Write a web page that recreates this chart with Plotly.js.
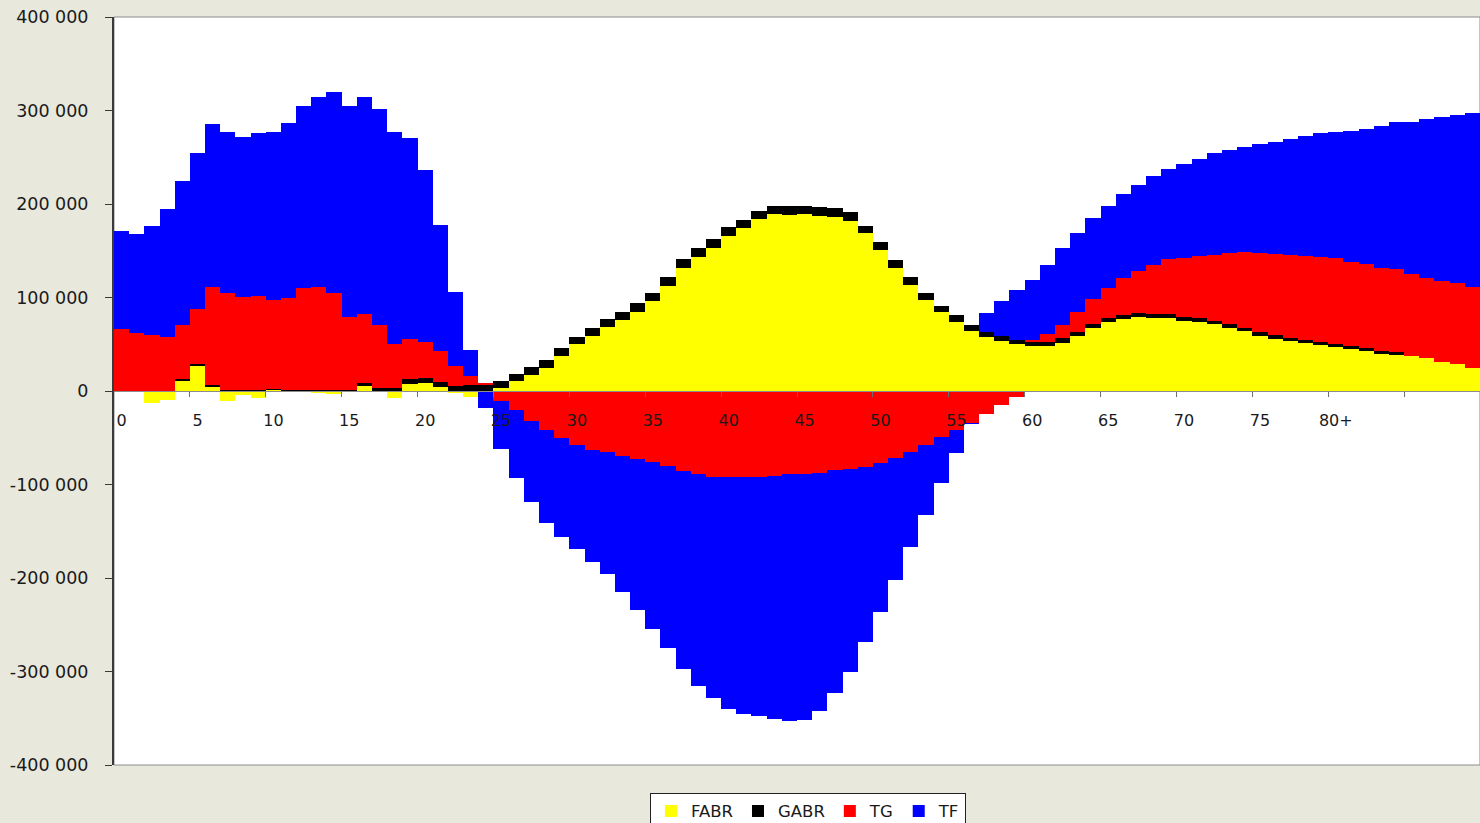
<!DOCTYPE html>
<html>
<head>
<meta charset="utf-8">
<script src="https://cdn.plot.ly/plotly-3.0.1.min.js"></script>
<style>
html,body{margin:0;padding:0;background:#E8E8DC;}
#chart{width:1480px;height:823px;}
</style>
</head>
<body>
<div id="chart"></div>
<script>
var ages = [0,1,2,3,4,5,6,7,8,9,10,11,12,13,14,15,16,17,18,19,20,21,22,23,24,25,26,27,28,29,
  30,31,32,33,34,35,36,37,38,39,40,41,42,43,44,45,46,47,48,49,50,51,52,53,54,55,56,57,58,59,
  60,61,62,63,64,65,66,67,68,69,70,71,72,73,74,75,76,77,78,79,80,81,82,83,84,85,86,87,88,89];

var tickAges = [0,5,10,15,20,25,30,35,40,45,50,55,60,65,70,75,80];
var tickLabels = ["0","5","10","15","20","25","30","35","40","45","50","55","60","65","70","75","80+"];

var FABR = [0,0,-13200,-9600,11000,27000,4600,-10700,-4300,-7800,
  1500,-1000,500,-2000,-3000,500,5300,500,-7800,7500,
  8200,4600,-2500,-6000,0,2900,10300,17100,25000,37800,
  49900,58800,68100,75900,84800,96300,112300,131900,143600,153300,
  166100,174000,183600,189000,188500,189000,187500,186500,182200,168700,
  150800,131900,113400,97300,84800,74100,64500,58100,53500,50300,
  48400,48400,51700,58800,67000,73500,77000,78800,77700,77700,
  75200,73500,71300,67000,64200,58800,55900,53200,51000,48900,
  46700,44600,42800,39600,38500,37400,35000,30700,28900,24900];

var GABR = [500,500,500,500,1500,2000,1500,800,800,800,
  1000,800,1000,1000,1000,1000,3500,3000,3500,5000,
  5300,5000,5500,6400,6400,7800,7900,8200,8200,8600,
  8200,8200,8900,8900,9000,8900,9300,9300,9000,8900,
  9000,8900,9200,8900,9400,9000,9700,8900,8900,7800,
  8900,8200,8200,7200,6600,7200,6100,5300,5300,4200,
  4300,4300,4700,4600,4700,4200,4300,4300,4700,4700,
  4300,4200,3900,4300,3500,4600,4000,3500,3500,3500,
  3600,3500,2800,3200,3500,0,0,0,0,0];

var TG = [66000,62000,59400,57300,58100,58400,105500,104200,99400,101200,
  94800,98300,108300,109900,104200,78000,73600,66700,46800,43500,
  39300,33500,21600,10000,2400,-11000,-20300,-31700,-41700,-50600,
  -58000,-62800,-65600,-69200,-73000,-76300,-80600,-85400,-89000,-91600,
  -92300,-92100,-91600,-90600,-89100,-88500,-88000,-84500,-83400,-80900,
  -76600,-71300,-64900,-57800,-49500,-41700,-34000,-24200,-14500,-6000,
  1800,8300,14200,21400,26300,32800,39900,45200,52400,58400,
  62400,67000,70600,76000,80600,83900,86600,88800,90200,91200,
  91600,90200,89900,89100,88200,87700,86200,86900,86900,86000];

var TF = [104400,105200,116900,136900,154400,167500,174000,172200,171100,174300,
  180100,187900,195400,203200,214600,225700,231700,231100,227100,214200,
  183600,134400,79100,27500,-18000,-51000,-72400,-87300,-99800,-105200,
  -111000,-119700,-130400,-145400,-161200,-178600,-194600,-212100,-226400,-237100,
  -248100,-253700,-256000,-260600,-263900,-263400,-253900,-238100,-217500,-187900,
  -159400,-130800,-101600,-74800,-49200,-25000,-1000,19700,37800,53500,
  64200,73800,82300,84200,87000,87700,89100,92400,95100,97000,
  100500,103400,108400,110500,113000,116900,119500,123700,128000,132000,
  134800,140100,144700,151500,157200,162300,169400,175100,179400,186100];

var yTicks = [400000,300000,200000,100000,0,-100000,-200000,-300000,-400000];
var yTickLabels = ["400\u00A0000","300\u00A0000","200\u00A0000","100\u00A0000","0",
  "-100\u00A0000","-200\u00A0000","-300\u00A0000","-400\u00A0000"];

var seriesNames = ["FABR","GABR","TG","TF"];
var seriesData = [FABR, GABR, TG, TF];
var seriesColors = ["#FFFF00","#000000","#FF0000","#0000FF"];

var traces = seriesNames.map(function(name, i){
  return {
    type: "bar",
    name: name,
    x: ages,
    y: seriesData[i],
    width: 1,
    marker: {color: seriesColors[i], line: {width: 0}},
    hoverinfo: "skip"
  };
});
// empty helper trace so the boundary-tick axis is drawn
traces.push({type:"scatter", x:[], y:[], xaxis:"x2", yaxis:"y", showlegend:false, hoverinfo:"skip"});

var boundaryTicks = [4.5,9.5,14.5,19.5,24.5,29.5,34.5,39.5,44.5,49.5,54.5,59.5,64.5,69.5,74.5,79.5,84.5];

var font = "DejaVu Sans, Verdana, sans-serif";

var layout = {
  width: 1480,
  height: 823,
  margin: {l: 114, r: 0, t: 17, b: 58, pad: 0, autoexpand: false},
  paper_bgcolor: "#E8E8DC",
  plot_bgcolor: "#FFFFFF",
  barmode: "relative",
  bargap: 0,
  showlegend: true,
  xaxis: {
    type: "linear",
    range: [-0.5, 89.5],
    anchor: "free",
    position: 0.5,
    showgrid: false,
    zeroline: false,
    showline: true,
    linecolor: "#8C8C8C",
    linewidth: 1,
    tickmode: "array",
    tickvals: tickAges,
    ticktext: tickLabels,
    ticks: "",
    ticklabelstandoff: 15,
    tickfont: {family: font, size: 16, color: "#1A1A1A"},
    fixedrange: true
  },
  xaxis2: {
    type: "linear",
    range: [-0.5, 89.5],
    overlaying: "x",
    anchor: "free",
    position: 0.5,
    showgrid: false,
    zeroline: false,
    showline: false,
    tickmode: "array",
    tickvals: boundaryTicks,
    ticks: "outside",
    ticklen: 5,
    tickwidth: 1,
    tickcolor: "#6E6E6E",
    showticklabels: false
  },
  yaxis: {
    range: [-400000, 400000],
    domain: [0, 1],
    showgrid: false,
    zeroline: false,
    showline: true,
    linecolor: "#3A3A3A",
    linewidth: 2,
    tickmode: "array",
    tickvals: yTicks,
    ticktext: yTickLabels,
    ticks: "outside",
    ticklen: 7,
    tickwidth: 1,
    tickcolor: "#3A3A3A",
    ticklabelstandoff: 13,
    tickfont: {family: font, size: 17.5, color: "#1A1A1A"},
    fixedrange: true
  },
  shapes: [{
    type: "rect", xref: "paper", yref: "paper", x0: 0, x1: 1, y0: 0, y1: 1,
    line: {color: "#8C8C8C", width: 1}, layer: "below"
  }],
  legend: {
    orientation: "h",
    x: 0.508,
    xanchor: "center",
    y: -0.037,
    yanchor: "top",
    bgcolor: "#FFFFFF",
    bordercolor: "#222222",
    borderwidth: 1,
    itemwidth: 30,
    traceorder: "normal",
    font: {family: font, size: 16.5, color: "#1A1A1A"}
  }
};

Plotly.newPlot("chart", traces, layout, {displayModeBar: false, staticPlot: true});
</script>
</body>
</html>
